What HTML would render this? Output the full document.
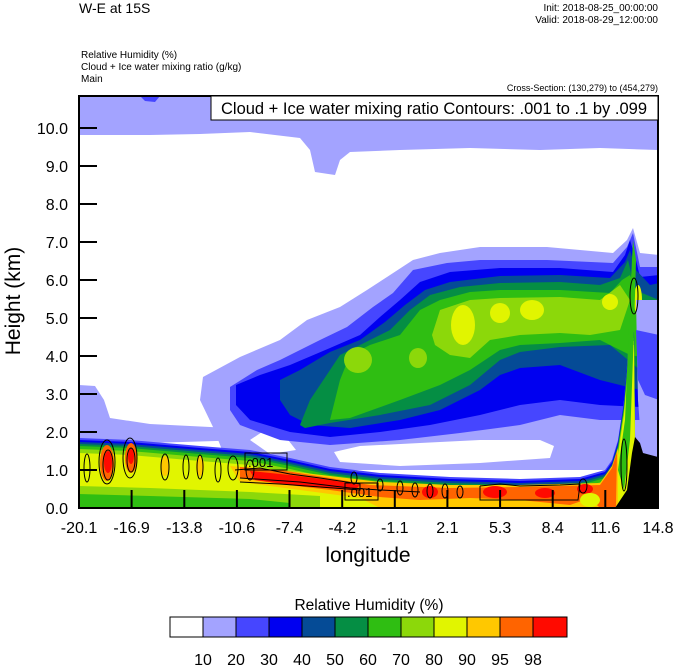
<!DOCTYPE html>
<html><head><meta charset="utf-8"><style>
html,body{margin:0;padding:0;background:#fff;}
body{width:674px;height:667px;overflow:hidden;position:relative;font-family:"Liberation Sans",sans-serif;}
</style></head><body>
<svg width="674" height="667" viewBox="0 0 674 667" xmlns="http://www.w3.org/2000/svg" font-family="Liberation Sans, sans-serif">
<defs><clipPath id="c"><rect x="79" y="96" width="579" height="412"/></clipPath></defs>
<rect width="674" height="667" fill="#fff"/>
<g clip-path="url(#c)">
<polygon fill="#a3a3ff" points="79,96 658,96 658,150 600,148 540,150 470,148 400,150 350,152 340,160 335,175 315,172 310,150 300,138 250,132 200,134 150,135 79,135"/>
<polygon fill="#4646ff" points="140,96 160,96 155,102 145,101"/>
<polygon fill="#4646ff" points="270,108 300,108 290,113"/>
<polygon fill="#a3a3ff" points="79,385 95,386 104,400 110,418 150,424 230,428 250,440 79,445"/>
<polygon fill="#a3a3ff" points="200,400 203,377 240,357 280,340 307,320 340,307 367,290 387,277 413,260 440,253 480,247 547,247 613,253 627,240 633,228 640,253 659,255 659,470 230,470 213,427"/>
<polygon fill="#fff" points="250,440 262,432 285,436 296,450 270,454"/>
<polygon fill="#fff" points="334,452 360,446 420,443 480,440 540,440 554,446 550,458 480,463 400,466 340,462"/>
<polygon fill="#4646ff" points="230,387 257,370 280,360 320,340 347,327 373,307 393,293 413,270 447,263 480,260 547,260 613,263 627,247 633,233 640,267 659,267 659,420 600,420 560,415 520,425 460,433 400,440 330,445 280,440 240,425 230,410"/>
<polygon fill="#0000f0" points="236,385 260,375 290,365 330,348 360,335 380,317 400,300 420,282 450,272 500,268 560,268 613,272 625,255 630,240 636,260 640,277 659,275 659,410 640,407 600,405 560,400 520,405 480,415 430,425 380,432 330,437 290,432 250,420 236,405"/>
<polygon fill="#054b96" points="280,380 300,370 330,352 360,340 385,322 405,305 425,290 450,282 500,276 560,275 610,278 625,262 630,250 636,270 650,285 659,283 659,395 640,390 600,380 560,365 520,368 500,375 480,390 440,410 400,420 350,428 310,425 290,415 280,400"/>
<polygon fill="#058e44" points="300,425 310,400 330,370 340,355 360,345 390,330 410,310 430,295 460,287 500,283 560,282 600,285 620,278 628,260 635,290 659,300 659,380 640,370 610,345 560,347 520,352 500,360 470,385 430,405 380,415 330,423 305,428"/>
<polygon fill="#2fbe12" points="330,420 340,380 350,355 370,345 400,335 420,310 440,300 470,292 500,290 560,290 610,293 622,280 630,275 640,300 659,310 659,360 630,355 600,340 560,343 520,345 500,350 470,370 440,385 400,400 350,418"/>
<ellipse fill="#8cd80a" cx="358" cy="360" rx="14" ry="13"/>
<ellipse fill="#8cd80a" cx="418" cy="358" rx="9" ry="10"/>
<polygon fill="#8cd80a" points="432,335 440,310 470,300 500,298 560,297 600,300 620,285 630,300 620,330 590,335 560,333 520,335 490,340 470,358 450,355 435,345"/>
<polygon fill="#8cd80a" points="640,305 659,310 659,340 642,340"/>
<ellipse fill="#e1f500" cx="463" cy="325" rx="12" ry="20"/>
<ellipse fill="#e1f500" cx="500" cy="313" rx="10" ry="10"/>
<ellipse fill="#e1f500" cx="532" cy="310" rx="12" ry="10"/>
<ellipse fill="#e1f500" cx="610" cy="302" rx="8" ry="8"/>
<ellipse fill="#e1f500" cx="638" cy="300" rx="4" ry="15"/>
<g>
<polygon fill="#4646ff" points="79,438 130,440 200,446 250,450 290,458 330,467 380,473 450,477 520,479 580,477 605,470 612,460 618,440 624,400 630,330 634,330 636,530 79,530"/>
<polygon fill="#0000f0" transform="translate(0,2)" points="79,438 130,440 200,446 250,450 290,458 330,467 380,473 450,477 520,479 580,477 605,470 612,460 618,440 624,400 630,330 634,330 636,530 79,530"/>
<polygon fill="#054b96" transform="translate(0,4)" points="79,438 130,440 200,446 250,450 290,458 330,467 380,473 450,477 520,479 580,477 605,470 612,460 618,440 624,400 630,330 634,330 636,530 79,530"/>
<polygon fill="#058e44" transform="translate(0,6)" points="79,438 130,440 200,446 250,450 290,458 330,467 380,473 450,477 520,479 580,477 605,470 612,460 618,440 624,400 630,330 634,330 636,530 79,530"/>
<polygon fill="#2fbe12" transform="translate(0,8)" points="79,438 130,440 200,446 250,450 290,458 330,467 380,473 450,477 520,479 580,477 605,470 612,460 618,440 624,400 630,330 634,330 636,530 79,530"/>
<polygon fill="#8cd80a" transform="translate(0,11)" points="79,438 130,440 200,446 250,450 290,458 330,467 380,473 450,477 520,479 580,477 605,470 612,460 618,440 624,400 630,330 634,330 636,530 79,530"/>
<polygon fill="#e1f500" transform="translate(0,15)" points="79,438 130,440 200,446 250,450 290,458 330,467 380,473 450,477 520,479 580,477 605,470 612,460 618,440 624,400 630,330 634,330 636,530 79,530"/>
</g>
<polygon fill="#8cd80a" points="79,486 150,488 250,492 320,496 320,508 79,508"/>
<polygon fill="#2fbe12" points="79,494 150,496 250,499 290,503 290,508 79,508"/>
<polygon fill="#ffc800" points="230,466 280,470 330,476 380,482 450,485 520,485 600,483 612,466 618,448 618,508 380,508 360,498 300,490 240,482"/>
<polygon fill="#ff6400" points="240,467 280,470 330,478 370,485 450,488 520,487 600,485 612,468 617,452 616,508 600,508 590,498 570,505 520,500 470,498 420,500 380,497 330,490 280,484 240,478"/>
<polygon fill="#ff0a00" points="250,471 290,475 330,480 360,485 355,490 300,486 255,480"/>
<ellipse fill="#ff6400" cx="107" cy="463" rx="7" ry="18"/>
<ellipse fill="#ff0a00" cx="108" cy="462" rx="4" ry="11"/>
<ellipse fill="#ff6400" cx="131" cy="458" rx="6" ry="15"/>
<ellipse fill="#ff0a00" cx="131" cy="456" rx="3" ry="8"/>
<ellipse fill="#ffc800" cx="165" cy="466" rx="4" ry="10"/>
<ellipse fill="#ffc800" cx="200" cy="466" rx="4" ry="10"/>
<ellipse fill="#ff0a00" cx="430" cy="492" rx="8" ry="6"/>
<ellipse fill="#ff0a00" cx="495" cy="492" rx="12" ry="6"/>
<ellipse fill="#ff0a00" cx="545" cy="493" rx="10" ry="5"/>
<ellipse fill="#ff0a00" cx="585" cy="489" rx="8" ry="5"/>
<ellipse fill="#e1f500" cx="590" cy="500" rx="10" ry="7"/>
<polygon fill="#2fbe12" points="618,470 625,420 630,300 633,240 636,260 634,330 630,440 624,490"/>
<polygon fill="#a3a3ff" points="636,300 659,300 659,460 642,455 638,400"/>
<polygon fill="#4646ff" points="636,330 659,335 659,400 645,395 638,380"/>
<polygon fill="#000" points="615,508 627,490 632,453 635,437 640,443 643,453 658,457 658,508"/>
<g fill="none" stroke="#000" stroke-width="1">
<ellipse cx="87" cy="468" rx="3" ry="14"/>
<ellipse cx="107" cy="462" rx="8" ry="22"/>
<ellipse cx="108" cy="465" rx="5" ry="15"/>
<ellipse cx="130" cy="458" rx="7" ry="20"/>
<ellipse cx="131" cy="460" rx="4" ry="12"/>
<ellipse cx="165" cy="467" rx="4" ry="13"/>
<ellipse cx="186" cy="467" rx="3" ry="12"/>
<ellipse cx="200" cy="467" rx="3" ry="12"/>
<ellipse cx="218" cy="470" rx="3" ry="12"/>
<ellipse cx="233" cy="468" rx="5" ry="12"/>
<ellipse cx="250" cy="470" rx="4" ry="10"/>
<polyline points="235,470 260,468 290,474 320,478 360,484 360,490 320,487 280,484 240,482"/>
<polyline points="240,478 300,482 350,488 380,490 420,492"/>
<ellipse cx="354" cy="478" rx="3" ry="6"/>
<ellipse cx="380" cy="485" rx="3" ry="6"/>
<ellipse cx="400" cy="488" rx="3" ry="7"/>
<ellipse cx="415" cy="490" rx="3" ry="7"/>
<ellipse cx="430" cy="491" rx="3" ry="7"/>
<ellipse cx="445" cy="491" rx="3" ry="7"/>
<ellipse cx="460" cy="492" rx="3" ry="6"/>
<polyline points="480,486 500,484 520,486 560,485 580,484 578,500 540,500 500,500 480,500 480,486"/>
<ellipse cx="583" cy="486" rx="4" ry="7"/>
<ellipse cx="624" cy="465" rx="3" ry="26"/>
<ellipse cx="634" cy="296" rx="4" ry="18"/>
</g>
<rect x="245" y="453" width="42" height="17" fill="none" stroke="#000"/>
<text x="248" y="467" font-size="13" fill="#000">.001</text>
<rect x="345" y="483" width="33" height="17" fill="none" stroke="#000"/>
<text x="347" y="497" font-size="13" fill="#000">.001</text>
</g>
<rect x="79" y="96" width="579" height="412" fill="none" stroke="#000" stroke-width="2"/>
<rect x="211" y="96" width="447" height="24" fill="#fff" stroke="#000" stroke-width="1"/>
<text x="434" y="114" font-size="16.5" text-anchor="middle" fill="#000">Cloud + Ice water mixing ratio Contours: .001 to .1 by .099</text>
<g stroke="#000" stroke-width="2">
<line x1="79" y1="128" x2="97" y2="128"/><line x1="79" y1="166" x2="97" y2="166"/>
<line x1="79" y1="204" x2="97" y2="204"/><line x1="79" y1="242" x2="97" y2="242"/>
<line x1="79" y1="280" x2="97" y2="280"/><line x1="79" y1="318" x2="97" y2="318"/>
<line x1="79" y1="356" x2="97" y2="356"/><line x1="79" y1="394" x2="97" y2="394"/>
<line x1="79" y1="432" x2="97" y2="432"/><line x1="79" y1="470" x2="97" y2="470"/>
<line x1="131.6" y1="508" x2="131.6" y2="490"/><line x1="184.3" y1="508" x2="184.3" y2="490"/>
<line x1="236.9" y1="508" x2="236.9" y2="490"/><line x1="289.5" y1="508" x2="289.5" y2="490"/>
<line x1="342.2" y1="508" x2="342.2" y2="490"/><line x1="394.8" y1="508" x2="394.8" y2="490"/>
<line x1="447.4" y1="508" x2="447.4" y2="490"/><line x1="500.1" y1="508" x2="500.1" y2="490"/>
<line x1="552.7" y1="508" x2="552.7" y2="490"/><line x1="605.3" y1="508" x2="605.3" y2="490"/>
</g>
<g font-size="16" fill="#000" text-anchor="end">
<text x="68" y="134">10.0</text><text x="68" y="172">9.0</text><text x="68" y="210">8.0</text>
<text x="68" y="248">7.0</text><text x="68" y="286">6.0</text><text x="68" y="324">5.0</text>
<text x="68" y="362">4.0</text><text x="68" y="400">3.0</text><text x="68" y="438">2.0</text>
<text x="68" y="476">1.0</text><text x="68" y="514">0.0</text>
</g>
<g font-size="16" fill="#000" text-anchor="middle">
<text x="79" y="533">-20.1</text><text x="131.6" y="533">-16.9</text><text x="184.3" y="533">-13.8</text>
<text x="236.9" y="533">-10.6</text><text x="289.5" y="533">-7.4</text><text x="342.2" y="533">-4.2</text>
<text x="394.8" y="533">-1.1</text><text x="447.4" y="533">2.1</text><text x="500.1" y="533">5.3</text>
<text x="552.7" y="533">8.4</text><text x="605.3" y="533">11.6</text><text x="658" y="533">14.8</text>
</g>
<text x="368" y="562" font-size="21" text-anchor="middle" fill="#000">longitude</text>
<text transform="translate(20,301) rotate(-90)" font-size="21" text-anchor="middle" fill="#000">Height (km)</text>
<text x="79" y="13" font-size="14" fill="#000">W-E at 15S</text>
<text x="658" y="11" font-size="10" text-anchor="end" fill="#000">Init: 2018-08-25_00:00:00</text>
<text x="658" y="23" font-size="10" text-anchor="end" fill="#000">Valid: 2018-08-29_12:00:00</text>
<text x="81" y="58" font-size="10" fill="#000">Relative Humidity   (%)</text>
<text x="81" y="70" font-size="10" fill="#000">Cloud + Ice water mixing ratio   (g/kg)</text>
<text x="81" y="82" font-size="10" fill="#000">Main</text>
<text x="658" y="91" font-size="9" text-anchor="end" fill="#000">Cross-Section: (130,279) to (454,279)</text>
<text x="369" y="610" font-size="15.5" text-anchor="middle" fill="#000">Relative Humidity  (%)</text>
<g stroke="#000" stroke-width="1">
<rect x="170" y="617" width="33" height="20" fill="#ffffff"/>
<rect x="203" y="617" width="33" height="20" fill="#a3a3ff"/>
<rect x="236" y="617" width="33" height="20" fill="#4646ff"/>
<rect x="269" y="617" width="33" height="20" fill="#0000f0"/>
<rect x="302" y="617" width="33" height="20" fill="#054b96"/>
<rect x="335" y="617" width="33" height="20" fill="#058e44"/>
<rect x="368" y="617" width="33" height="20" fill="#2fbe12"/>
<rect x="401" y="617" width="33" height="20" fill="#8cd80a"/>
<rect x="434" y="617" width="33" height="20" fill="#e1f500"/>
<rect x="467" y="617" width="33" height="20" fill="#ffc800"/>
<rect x="500" y="617" width="33" height="20" fill="#ff6400"/>
<rect x="533" y="617" width="34" height="20" fill="#ff0a00"/>
</g>
<g font-size="16" fill="#000" text-anchor="middle">
<text x="203" y="665">10</text><text x="236" y="665">20</text><text x="269" y="665">30</text>
<text x="302" y="665">40</text><text x="335" y="665">50</text><text x="368" y="665">60</text>
<text x="401" y="665">70</text><text x="434" y="665">80</text><text x="467" y="665">90</text>
<text x="500" y="665">95</text><text x="533" y="665">98</text>
</g>
</svg>
</body></html>
